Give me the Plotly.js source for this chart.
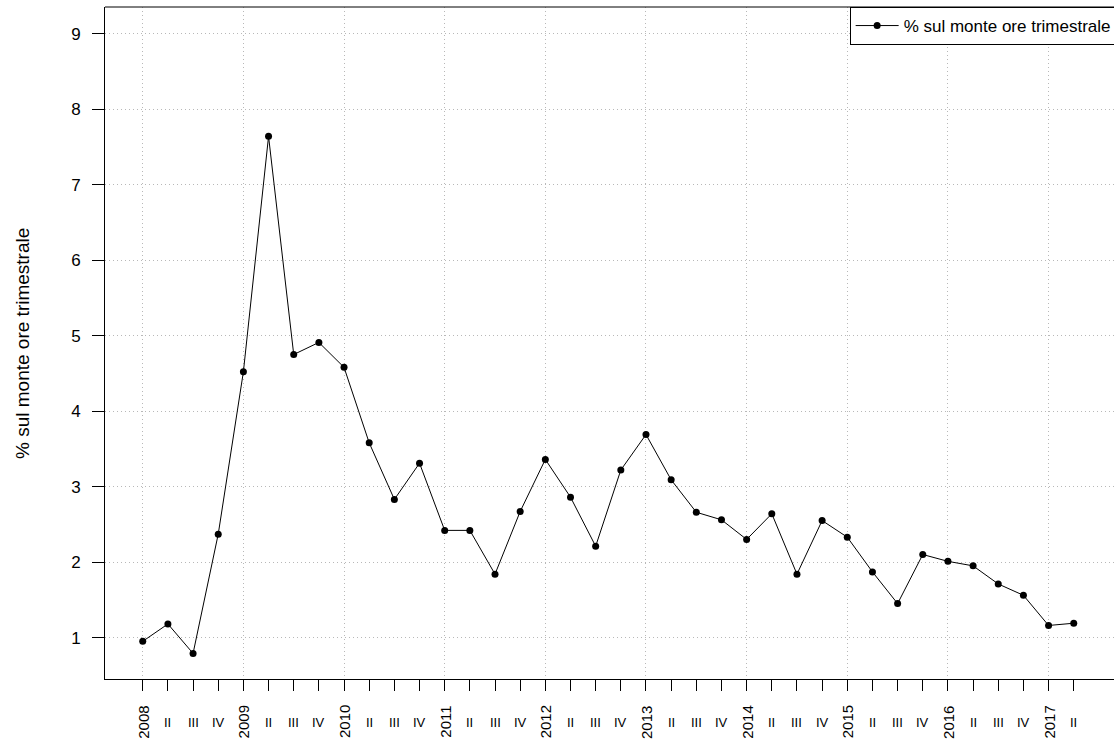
<!DOCTYPE html>
<html>
<head>
<meta charset="utf-8">
<script src="https://cdn.plot.ly/plotly-3.0.1.min.js"></script>
<style>
  html, body { margin: 0; padding: 0; background: #fff; overflow: hidden; }
  #chart { width: 1114px; height: 742px; }
</style>
</head>
<body>
<div id="chart"></div>
<script>
// Quarter labels (2008 Q1 .. 2017 Q2)
const quarterLabels = [
  '2008','II','III','IV',
  '2009','II','III','IV',
  '2010','II','III','IV',
  '2011','II','III','IV',
  '2012','II','III','IV',
  '2013','II','III','IV',
  '2014','II','III','IV',
  '2015','II','III','IV',
  '2016','II','III','IV',
  '2017','II'
];
// % sul monte ore trimestrale
const seriesValues = [
  0.95, 1.18, 0.79, 2.37,
  4.52, 7.64, 4.75, 4.91,
  4.58, 3.58, 2.83, 3.31,
  2.42, 2.42, 1.84, 2.67,
  3.36, 2.86, 2.21, 3.22,
  3.69, 3.09, 2.66, 2.56,
  2.30, 2.64, 1.84, 2.55,
  2.33, 1.87, 1.45, 2.10,
  2.01, 1.95, 1.71, 1.56,
  1.16, 1.19
];
const seriesName = '% sul monte ore trimestrale';
const yTitle = '% sul monte ore trimestrale';

const xIdx = quarterLabels.map((_, i) => i);
const FONT = 'Liberation Sans, Arial, sans-serif';

const trace = {
  x: xIdx,
  y: seriesValues,
  type: 'scatter',
  mode: 'lines+markers',
  name: seriesName,
  line: { color: '#000', width: 1 },
  marker: { color: '#000', size: 7, symbol: 'circle' },
  hoverinfo: 'x+y'
};

// Year labels are drawn rotated, quarter numerals upright (as in the reference)
const annotations = quarterLabels.map((lab, i) => {
  const isYear = /^\d{4}$/.test(lab);
  return {
    x: i, xref: 'x',
    y: -0.064, yref: 'paper',
    text: lab,
    textangle: isYear ? -90 : 0,
    showarrow: false,
    xanchor: 'center', yanchor: 'middle',
    font: { family: FONT, size: isYear ? 15 : 13, color: '#000' }
  };
});
annotations.push({
  x: -0.0823, xref: 'paper',
  y: 0.5, yref: 'paper',
  text: yTitle,
  textangle: -90,
  showarrow: false,
  xanchor: 'center', yanchor: 'middle',
  font: { family: FONT, size: 19, color: '#000' }
});

const layout = {
  width: 1114,
  height: 742,
  margin: { l: 105, r: 0, t: 7, b: 63, autoexpand: false },
  paper_bgcolor: '#fff',
  plot_bgcolor: '#fff',
  font: { family: FONT, size: 17, color: '#000' },
  showlegend: true,
  legend: {
    x: 0.738, y: 1, xanchor: 'left', yanchor: 'top',
    xref: 'paper', yref: 'paper',
    itemwidth: 43,
    bgcolor: '#fff', bordercolor: '#000', borderwidth: 1,
    font: { family: FONT, size: 17, color: '#000' }
  },
  xaxis: {
    range: [-1.5, 38.6],
    tickmode: 'linear', tick0: 0, dtick: 4,
    ticks: 'outside', ticklen: 11, tickwidth: 1, tickcolor: '#000',
    showticklabels: false,
    showgrid: true, gridcolor: '#b8b8b8', griddash: '1px,3px', gridwidth: 1,
    minor: { tickmode: 'array', tickvals: xIdx, ticks: 'outside', ticklen: 11, tickwidth: 1, tickcolor: '#000', showgrid: false },
    showline: true, linecolor: '#000', linewidth: 1,
    zeroline: false, fixedrange: true
  },
  yaxis: {
    range: [0.451, 9.354],
    tickmode: 'linear', tick0: 1, dtick: 1,
    ticks: 'outside', ticklen: 12, tickwidth: 1, tickcolor: '#000',
    ticklabelstandoff: 8,
    tickfont: { family: FONT, size: 17, color: '#000' },
    showgrid: true, gridcolor: '#b8b8b8', griddash: '1px,3px', gridwidth: 1,
    showline: true, linecolor: '#000', linewidth: 1,
    zeroline: false, fixedrange: true
  },
  shapes: [{
    type: 'line', xref: 'paper', yref: 'paper',
    x0: 0, x1: 1, y0: 1, y1: 1,
    line: { color: '#000', width: 1 }
  }],
  annotations: annotations
};

Plotly.newPlot('chart', [trace], layout, { displayModeBar: false });
</script>
</body>
</html>
